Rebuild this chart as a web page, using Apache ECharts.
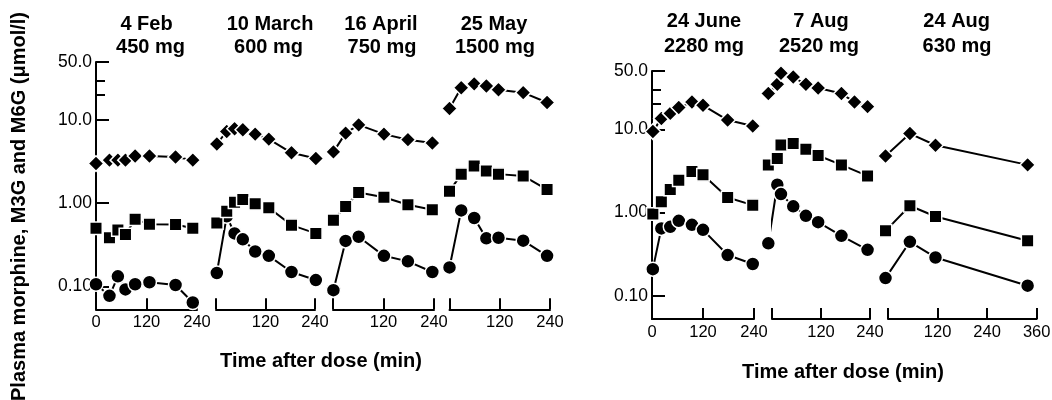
<!DOCTYPE html>
<html>
<head>
<meta charset="utf-8">
<script src="https://cdn.jsdelivr.net/npm/echarts@6/dist/echarts.min.js"></script>
<style>
html,body{margin:0;padding:0;background:#fff;}
#chart{width:1052px;height:400px;}
</style>
</head>
<body>
<div id="chart"></div>
<script>
// ---- Data (µmol/l) ----
const feb4T     = [0, 32, 52, 70, 93, 127, 189, 230];
const feb4Morph = [0.106, 0.077, 0.132, 0.092, 0.106, 0.112, 0.104, 0.064];
const feb4M6G   = [0.50, 0.385, 0.475, 0.42, 0.64, 0.56, 0.555, 0.50];
const feb4M3G   = [3.0, 3.3, 3.3, 3.3, 3.7, 3.7, 3.6, 3.3];

const mar10T     = [2, 26, 45, 65, 95, 128, 183, 242];
const mar10Morph = [0.145, 0.696, 0.434, 0.368, 0.263, 0.233, 0.149, 0.119];
const mar10M6G   = [0.58, 0.80, 1.03, 1.11, 0.985, 0.883, 0.545, 0.434];
const mar10M3G   = [5.16, 7.3, 7.86, 7.65, 6.78, 5.91, 4.04, 3.46];

const apr16T     = [1, 30, 61, 121, 178, 236];
const apr16Morph = [0.090, 0.352, 0.395, 0.233, 0.200, 0.149];
const apr16M6G   = [0.624, 0.915, 1.35, 1.18, 0.958, 0.836];
const apr16M3G   = [4.15, 6.97, 8.77, 6.78, 5.82, 5.30];

const may25T     = [0, 28, 59, 88, 117, 176, 233];
const may25Morph = [0.169, 0.82, 0.665, 0.378, 0.385, 0.355, 0.233];
const may25M6G   = [1.39, 2.24, 2.81, 2.45, 2.24, 2.13, 1.46];
const may25M3G   = [13.8, 24.5, 27.3, 25.7, 23.2, 21.4, 16.3];

const jun24T     = [2, 22, 43, 63, 94, 120, 178, 237];
const jun24Morph = [0.21, 0.647, 0.676, 0.797, 0.714, 0.622, 0.31, 0.242];
const jun24M6G   = [0.96, 1.35, 1.89, 2.45, 3.11, 2.84, 1.52, 1.23];
const jun24M3G   = [9.38, 13.5, 15.5, 18.2, 21.2, 19.4, 12.9, 10.96];

const aug7T     = [-9, 13, 22, 52, 83, 113, 170, 202, 234];
const aug7Morph = [0.428, 2.16, 1.67, 1.19, 0.916, 0.769, 0.527, null, 0.358];
const aug7M6G   = [3.74, 4.46, 6.48, 6.74, 5.76, 4.84, 3.74, null, 2.76];
const aug7M3G   = [26.8, 34.6, 46.9, 42.3, 34.6, 31.2, 26.8, 21.2, 18.7];

const aug24T     = [-6, 53, 115, 338];
const aug24Morph = [0.164, 0.447, 0.29, 0.133];
const aug24M6G   = [0.605, 1.21, 0.90, 0.46];
const aug24M3G   = [4.79, 8.88, 6.43, 3.74];

const titleDates = ['4 Feb', '10 March', '16 April', '25 May', '24 June', '7 Aug', '24 Aug'];
const titleDoses = ['450 mg', '600 mg', '750 mg', '1500 mg', '2280 mg', '2520 mg', '630 mg'];

const yTickValues = [0.1, 1, 10, 50];
const yTickLabels = ['0.10', '1.00', '10.0', '50.0'];
const yMinorTicks = [20, 30];
const xTickStep = 120;
const xMaxes = [240, 240, 240, 240, 240, 240, 360];

const yAxisTitle = 'Plasma morphine, M3G and M6G (\u03bcmol/l)';
const xAxisTitle = 'Time after dose (min)';

// ---- Layout ----
const FONT = 'Liberation Sans';
const yMin = 0.053, yMax = 50;
const panelData = [
  [feb4T, feb4Morph, feb4M6G, feb4M3G],
  [mar10T, mar10Morph, mar10M6G, mar10M3G],
  [apr16T, apr16Morph, apr16M6G, apr16M3G],
  [may25T, may25Morph, may25M6G, may25M3G],
  [jun24T, jun24Morph, jun24M6G, jun24M3G],
  [aug7T, aug7Morph, aug7M6G, aug7M3G],
  [aug24T, aug24Morph, aug24M6G, aug24M3G]
];
const layout = [
  {left: 96,  width: 101,   top: 62, height: 247.3, first: true,  lx: [146.5, 150.5], ly: [24, 47.5]},
  {left: 216, width: 99,    top: 62, height: 247.3, first: false, lx: [270, 268.5],   ly: [24, 47.5]},
  {left: 333, width: 101,   top: 62, height: 247.3, first: false, lx: [381, 382],     ly: [24, 47.5]},
  {left: 449.5, width: 100.5, top: 62, height: 247.3, first: false, lx: [494, 495],   ly: [24, 47.5]},
  {left: 652, width: 102,   top: 71, height: 248, first: true,  lx: [704, 704],     ly: [21.7, 46.2]},
  {left: 772, width: 98,    top: 71, height: 248, first: false, lx: [821, 819],     ly: [21.7, 46.2]},
  {left: 888, width: 148.7, top: 71, height: 248, first: false, lx: [956.7, 957],   ly: [21.7, 46.2]}
];

const grids = [], xAxes = [], yAxes = [], series = [], graphics = [];
const symbols = [
  {symbol: 'circle', size: 14},
  {symbol: 'rect', size: 12.5},
  {symbol: 'diamond', size: 15.5}
];
const names = ['Morphine', 'M6G', 'M3G'];

layout.forEach((L, i) => {
  grids.push({left: L.left, top: L.top, width: L.width, height: L.height,
              containLabel: false, outerBoundsMode: 'none'});
  xAxes.push({
    type: 'value', gridIndex: i, min: 0, max: xMaxes[i], interval: xTickStep,
    axisLine: {show: true, onZero: false, lineStyle: {color: '#000', width: 2}},
    axisTick: {show: true, inside: true, length: 11, lineStyle: {color: '#000', width: 2}},
    axisLabel: {show: true, color: '#000', fontSize: 16.5, fontFamily: FONT, margin: 5,
                formatter: v => (v === 0 && !L.first) ? '' : String(v)},
    splitLine: {show: false}
  });
  const yIdx = yAxes.length;
  yAxes.push({
    type: 'log', logBase: 10, gridIndex: i, min: yMin, max: yMax, position: 'left',
    show: L.first,
    axisLine: {show: true, onZero: false, lineStyle: {color: '#000', width: 2}},
    axisTick: {show: true, inside: true, length: 13, customValues: yTickValues,
               lineStyle: {color: '#000', width: 2}},
    axisLabel: {show: true, customValues: yTickValues, color: '#000', fontSize: 17.5,
                fontFamily: FONT, margin: 4,
                formatter: v => {
                  const k = yTickValues.findIndex(t => Math.abs(t - v) / t < 1e-6);
                  return k >= 0 ? yTickLabels[k] : '';
                }},
    splitLine: {show: false}, minorTick: {show: false}
  });
  if (L.first) {
    yAxes.push({
      type: 'log', logBase: 10, gridIndex: i, min: yMin, max: yMax, position: 'left', offset: 0,
      axisLine: {show: false, onZero: false},
      axisTick: {show: true, inside: true, length: 9, customValues: yMinorTicks,
                 lineStyle: {color: '#000', width: 2}},
      axisLabel: {show: false},
      splitLine: {show: false}
    });
  }
  const d = panelData[i];
  const t = d[0];
  for (let s = 0; s < 3; s++) {
    const vals = d[s + 1];
    const pts = [];
    t.forEach((x, k) => { if (vals[k] != null) pts.push([x, vals[k]]); });
    series.push({
      type: 'line', name: names[s], xAxisIndex: i, yAxisIndex: yIdx, data: pts,
      symbol: symbols[s].symbol, symbolSize: symbols[s].size, showSymbol: true,
      lineStyle: {color: '#000', width: 2},
      itemStyle: {color: '#000', borderColor: '#fff', borderWidth: 1.5},
      clip: false, connectNulls: true, animation: false, silent: true,
      emphasis: {disabled: true}
    });
  }
  graphics.push({type: 'text', x: L.lx[0], y: L.ly[0], silent: true,
    style: {text: titleDates[i], fill: '#000', font: 'bold 20px "' + FONT + '"',
            textAlign: 'center', textVerticalAlign: 'middle'}});
  graphics.push({type: 'text', x: L.lx[1], y: L.ly[1], silent: true,
    style: {text: titleDoses[i], fill: '#000', font: 'bold 20px "' + FONT + '"',
            textAlign: 'center', textVerticalAlign: 'middle'}});
});

graphics.push({type: 'text', x: 19, y: 206.5, rotation: Math.PI / 2, silent: true,
  style: {text: yAxisTitle, fill: '#000', font: 'bold 20px "' + FONT + '"',
          textAlign: 'center', textVerticalAlign: 'middle'}});
graphics.push({type: 'text', x: 321, y: 361, silent: true,
  style: {text: xAxisTitle, fill: '#000', font: 'bold 20px "' + FONT + '"',
          textAlign: 'center', textVerticalAlign: 'middle'}});
graphics.push({type: 'text', x: 843, y: 372.5, silent: true,
  style: {text: xAxisTitle, fill: '#000', font: 'bold 20px "' + FONT + '"',
          textAlign: 'center', textVerticalAlign: 'middle'}});

const chart = echarts.init(document.getElementById('chart'), null, {renderer: 'canvas'});
chart.setOption({
  animation: false,
  backgroundColor: '#fff',
  grid: grids,
  xAxis: xAxes,
  yAxis: yAxes,
  series: series,
  graphic: graphics
});
</script>
</body>
</html>
